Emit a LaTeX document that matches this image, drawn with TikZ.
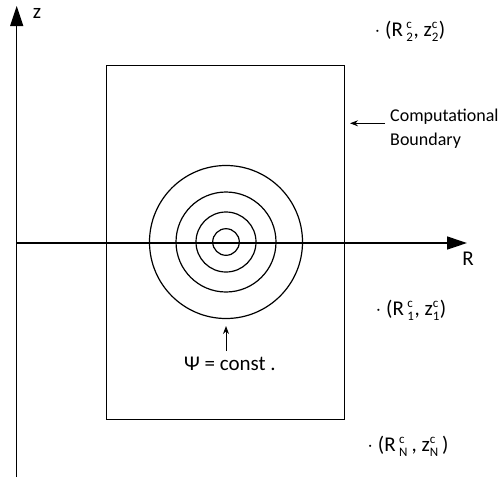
\documentclass[tikz,border=0pt]{standalone}
\usepackage{fontspec}
\setmainfont{Carlito}
\usetikzlibrary{arrows.meta}
\newcommand\scd[2]{$^{\mbox{\fontsize{13}{13}\selectfont #1}}_{\mbox{\fontsize{13}{13}\selectfont #2}}$}
\newcommand\lblfont{\fontsize{21}{25}\selectfont}
\newcommand\cbfont{\fontsize{18}{24}\selectfont}
\begin{document}
\begin{tikzpicture}[x=1pt,y=-1pt,
  lbl/.style={inner sep=0pt,font=\lblfont},
  axis/.style={line width=1.3pt,-{Triangle[length=20pt,width=13pt]}},
  pointer/.style={line width=1pt,-{Stealth[length=8pt,width=6pt]}},
  ring/.style={line width=1.2pt}]
\useasboundingbox (0,0) rectangle (502,479);
% axes
\coordinate (zb) at (16.7,477);
\coordinate (zt) at (16.7,6);
\coordinate (rl) at (16.7,243);
\coordinate (rr) at (467,243);
\draw[axis] (zb) -- (zt);
\draw[axis] (rl) -- (rr);
\node[lbl] (zlab) at (37,13) {z};
\node[lbl] (rlab) at (468,259) {R};
% computational boundary
\draw[line width=1.2pt] (106.7,65.7) rectangle (344.7,419.3);
% contours
\coordinate (c) at (226,242);
\foreach \r in {76.5,50,30,13.3} \draw[ring] (c) circle[radius=\r];
% labels
\node[lbl,font=\cbfont,anchor=west,align=left] (cb) at (390,129) {Computational\\Boundary};
\coordinate (cbtip) at (350,123.3);
\draw[pointer] (cb.west |- cbtip) ++(-5,0) coordinate (cbtail) -- (cbtip);
\node[lbl] (psi) at (230,364) {Ψ = const .};
\coordinate (psitip) at (226,326);
\draw[pointer] (226,351) coordinate (psitail) -- (psitip);
\node[lbl] (p2) at (410,31) {$\cdot$ (R\,\scd{c}{2}, z\scd{c}{2})};
\node[lbl] (p1) at (411,310) {$\cdot$ (R\,\scd{c}{1}, z\scd{c}{1})};
\node[lbl] (pN) at (408,446) {$\cdot$ (R\,\scd{c}{N}\,, z\scd{c}{N}\,)};
\end{tikzpicture}
\end{document}
